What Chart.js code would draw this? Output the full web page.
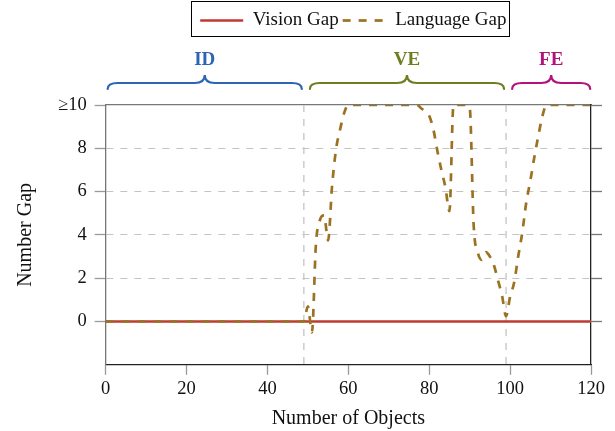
<!DOCTYPE html>
<html>
<head>
<meta charset="utf-8">
<script src="https://cdn.jsdelivr.net/npm/chart.js@4.4.1/dist/chart.umd.min.js"></script>
<style>
  html, body { margin: 0; padding: 0; background: #fff; }
  #wrap { width: 615px; height: 431px; }
</style>
</head>
<body>
<div id="wrap"><canvas id="c"></canvas></div>
<script>
// number gap vs number of objects

const SERIF = "'Liberation Serif', 'DejaVu Serif', serif";

const visionX = [0, 120];
const visionY = [0, 0];

const langX = [0, 49, 50, 51, 52, 53, 54, 55, 56, 57, 58, 59, 60,
  77, 78, 79, 80, 81, 82, 83, 84, 85, 86, 87, 89, 90, 91, 92, 93, 94, 95,
  96, 97, 98, 99, 100, 101, 102, 103, 104, 105, 106, 107, 108, 109, 120];
const langY = [0, 0, 0.7, -0.5, 3.6, 4.7, 4.9, 3.75, 6.3, 8.0, 8.9, 9.65, 10,
  10, 9.85, 9.7, 9.5, 8.9, 7.9, 7.0, 6.2, 5.1, 10, 10, 10, 9.9, 4.4, 3.2, 2.85, 3.2, 3.0,
  2.6, 1.9, 1.2, 0.25, 1.15, 1.8, 3.0, 4.1, 5.5, 6.5, 7.6, 8.6, 9.5, 10, 10];

const xTicks = [0, 20, 40, 60, 80, 100, 120];
const yTicks = [-2, 0, 2, 4, 6, 8, 10];

const phaseBounds = [49, 99];
const phaseLabels = ['ID', 'VE', 'FE'];
const phaseStart = [0.5, 50.5, 100.5];
const phaseEnd = [48.5, 98.5, 119.8];
const phaseColors = ['#2E64B4', '#6E7D1F', '#B0147A'];

const C = {
  vision: '#BF3A30',
  lang: '#9B7221',
  grid: '#c4c4c4',
  axis: '#777',
  frame: '#222',
  text: '#111'
};

const SAMPLE_W = 43;
const LEGEND_DX = 5;

function pts(xs, ys) {
  return xs.map((x, i) => ({ x, y: ys[i] }));
}

// room under the legend for the phase braces, legend nudged right a bit
const legendSpacer = {
  id: 'legendSpacer',
  beforeInit(chart) {
    const fit = chart.legend.fit;
    chart.legend.fit = function () {
      fit.call(this);
      this.height += 65;
    };
    const draw = chart.legend.draw;
    chart.legend.draw = function () {
      this.ctx.save();
      this.ctx.translate(LEGEND_DX, 0);
      draw.call(this);
      this.ctx.restore();
    };
  }
};

// line samples + frame round the legend
const legendBox = {
  id: 'legendBox',
  afterDraw(chart) {
    const boxes = chart.legend.legendHitBoxes;
    const items = chart.legend.legendItems;
    if (!boxes || !boxes.length) return;
    const ctx = chart.ctx;
    ctx.save();
    ctx.translate(LEGEND_DX, 0);
    boxes.forEach((b, i) => {
      const ds = chart.data.datasets[items[i].datasetIndex];
      const y = b.top + b.height / 2;
      ctx.strokeStyle = ds.borderColor;
      ctx.lineWidth = ds.borderWidth;
      ctx.setLineDash(ds.borderDash || []);
      ctx.beginPath();
      ctx.moveTo(b.left, y);
      ctx.lineTo(b.left + SAMPLE_W, y);
      ctx.stroke();
    });
    const l = Math.min(...boxes.map(b => b.left));
    const r = Math.max(...boxes.map(b => b.left + b.width));
    const t = boxes[0].top, h = boxes[0].height;
    ctx.setLineDash([]);
    ctx.strokeStyle = '#000';
    ctx.lineWidth = 1;
    ctx.strokeRect(Math.round(l - 9) + 0.5, Math.round(t - 10) + 0.5,
      Math.round(r - l + 12), Math.round(h + 16));
    ctx.restore();
  }
};

const phaseLines = {
  id: 'phaseLines',
  beforeDatasetsDraw(chart) {
    const { ctx, chartArea, scales } = chart;
    ctx.save();
    ctx.strokeStyle = '#c8c8c8';
    ctx.lineWidth = 1.4;
    ctx.setLineDash([7, 7]);
    phaseBounds.forEach(v => {
      const x = scales.x.getPixelForValue(v);
      ctx.beginPath();
      ctx.moveTo(x, chartArea.top);
      ctx.lineTo(x, chartArea.bottom);
      ctx.stroke();
    });
    ctx.restore();
  }
};

const braces = {
  id: 'braces',
  afterDraw(chart) {
    const { ctx, chartArea, scales } = chart;
    const top = chartArea.top;
    const yb = top - 16, ym = top - 22, yt = top - 30;
    const r = 10;
    ctx.save();
    ctx.lineWidth = 2.2;
    ctx.lineCap = 'round';
    phaseLabels.forEach((lab, i) => {
      const x0 = scales.x.getPixelForValue(phaseStart[i]);
      const x1 = scales.x.getPixelForValue(phaseEnd[i]);
      const xc = (x0 + x1) / 2;
      ctx.strokeStyle = phaseColors[i];
      ctx.beginPath();
      ctx.moveTo(x0, yb);
      ctx.quadraticCurveTo(x0, ym, x0 + r, ym);
      ctx.lineTo(xc - r, ym);
      ctx.quadraticCurveTo(xc, ym, xc, yt);
      ctx.quadraticCurveTo(xc, ym, xc + r, ym);
      ctx.lineTo(x1 - r, ym);
      ctx.quadraticCurveTo(x1, ym, x1, yb);
      ctx.stroke();
      ctx.fillStyle = phaseColors[i];
      ctx.font = "bold 19px " + SERIF;
      ctx.textAlign = 'center';
      ctx.textBaseline = 'middle';
      ctx.fillText(lab, xc, top - 45);
    });
    ctx.restore();
  }
};

const hideEdge = (c, col) => (c.tick && (c.tick.value === -2 || c.tick.value === 10 || c.tick.value === 0)) ? 'rgba(0,0,0,0)' : col;
const tickCol = col => c => (c.tick && c.tick.value === -2) ? 'rgba(0,0,0,0)' : col;

new Chart(document.getElementById('c'), {
  type: 'line',
  data: {
    datasets: [
      {
        label: 'Vision Gap',
        data: pts(visionX, visionY),
        borderColor: C.vision,
        backgroundColor: C.vision,
        borderWidth: 2.7,
        pointRadius: 0,
        order: 2
      },
      {
        label: 'Language Gap',
        data: pts(langX, langY),
        borderColor: C.lang,
        backgroundColor: C.lang,
        borderWidth: 2.7,
        borderDash: [8, 8],
        pointRadius: 0,
        cubicInterpolationMode: 'monotone',
        order: 1
      }
    ]
  },
  options: {
    responsive: true,
    maintainAspectRatio: false,
    animation: false,
    layout: { padding: { left: 14, right: 13, top: 7, bottom: 0 } },
    plugins: {
      legend: {
        position: 'top',
        fullSize: false,
        labels: {
          font: { family: SERIF, size: 19 },
          color: C.text,
          boxWidth: SAMPLE_W,
          boxHeight: 3,
          padding: 4,
          sort: (a, b) => a.datasetIndex - b.datasetIndex,
          generateLabels: chart => Chart.defaults.plugins.legend.labels.generateLabels(chart).map(it =>
            Object.assign(it, { fillStyle: 'rgba(0,0,0,0)', strokeStyle: 'rgba(0,0,0,0)', lineWidth: 0 }))
        }
      },
      tooltip: { enabled: false }
    },
    scales: {
      x: {
        type: 'linear',
        position: 'bottom',
        min: 0,
        max: 120,
        afterBuildTicks: s => { s.ticks = xTicks.map(v => ({ value: v })); },
        ticks: { font: { family: SERIF, size: 18.5 }, color: C.text, padding: 3, maxRotation: 0 },
        grid: { drawOnChartArea: false, tickLength: 10, tickColor: '#999', tickWidth: 1.3 },
        border: { color: C.frame, width: 1.3 },
        title: {
          display: true,
          text: 'Number of Objects',
          font: { family: SERIF, size: 20 },
          color: C.text,
          padding: { top: 4, bottom: 0 }
        }
      },
      xTop: {
        type: 'linear',
        position: 'top',
        min: 0,
        max: 120,
        ticks: { display: false },
        grid: { drawOnChartArea: false, drawTicks: false },
        border: { color: C.axis, width: 1.3 }
      },
      y: {
        type: 'linear',
        position: 'left',
        min: -2,
        max: 10,
        afterBuildTicks: s => { s.ticks = yTicks.map(v => ({ value: v })); },
        ticks: {
          font: { family: SERIF, size: 18.5 },
          color: C.text,
          padding: 8,
          callback: v => v === 10 ? '\u226510' : (v === -2 ? '' : v)
        },
        grid: {
          color: c => hideEdge(c, C.grid),
          lineWidth: 1,
          tickLength: 11,
          tickColor: tickCol('#999'),
          tickWidth: 1.3
        },
        border: { color: C.axis, width: 1.3, dash: [7, 7] },
        title: {
          display: true,
          text: 'Number Gap',
          font: { family: SERIF, size: 20 },
          color: C.text,
          padding: { top: 0, bottom: 12 }
        }
      },
      yRight: {
        type: 'linear',
        position: 'right',
        min: -2,
        max: 10,
        afterBuildTicks: s => { s.ticks = yTicks.map(v => ({ value: v })); },
        ticks: { display: false },
        grid: {
          drawOnChartArea: false,
          tickLength: 11,
          tickColor: tickCol('#777'),
          tickWidth: 1.3
        },
        border: { color: C.frame, width: 1.3 }
      }
    }
  },
  plugins: [legendSpacer, legendBox, phaseLines, braces]
});
</script>
</body>
</html>
